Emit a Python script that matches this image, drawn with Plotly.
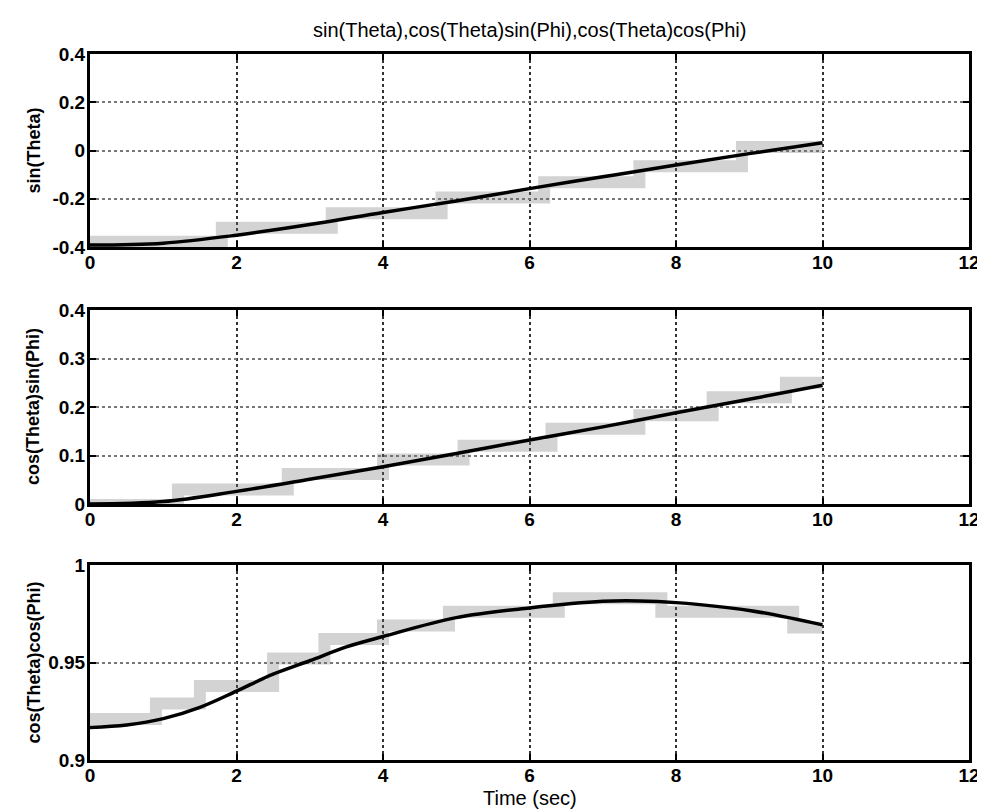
import plotly.graph_objects as go

# ---- data ----
time_s = [0, 1, 2, 3, 4, 5, 6, 7, 8, 9, 10]
sin_theta = [-0.392, -0.384, -0.351, -0.307, -0.257, -0.209, -0.158, -0.109, -0.060, -0.013, 0.032]
cos_theta_sin_phi = [0.0, 0.005, 0.026, 0.051, 0.077, 0.104, 0.132, 0.159, 0.188, 0.216, 0.245]

time_s3 = [0, 0.5, 1, 1.5, 2, 2.5, 3, 3.5, 4, 5, 6, 7, 7.5, 8, 9, 10]
cos_theta_cos_phi = [0.9167, 0.918, 0.9212, 0.927, 0.9353, 0.944, 0.9509, 0.958, 0.9633,
                     0.973, 0.978, 0.9814, 0.9816, 0.9807, 0.9767, 0.9693]

# gray stepped (sampled) traces visible behind the curves
step_t1 = [0, 1.8, 3.3, 4.8, 6.2, 7.5, 8.9, 10]
step_v1 = [-0.378, -0.320, -0.260, -0.195, -0.132, -0.065, 0.015, 0.015]
step_t2 = [0, 1.2, 2.7, 4.0, 5.1, 6.3, 7.5, 8.5, 9.5, 10]
step_v2 = [-0.002, 0.030, 0.062, 0.092, 0.120, 0.155, 0.183, 0.220, 0.250, 0.250]
step_t3 = [0, 0.9, 1.5, 2.5, 3.2, 4.0, 4.9, 6.4, 7.8, 9.6, 10]
step_v3 = [0.921, 0.929, 0.938, 0.952, 0.962, 0.969, 0.976, 0.983, 0.976, 0.968, 0.968]

x_ticks = [0, 2, 4, 6, 8, 10, 12]
x_ticktext = ["0", "2", "4", "6", "8", "10", "12"]
y1_ticks = [-0.4, -0.2, 0, 0.2, 0.4]
y1_ticktext = ["-0.4", "-0.2", "0", "0.2", "0.4"]
y2_ticks = [0, 0.1, 0.2, 0.3, 0.4]
y2_ticktext = ["0", "0.1", "0.2", "0.3", "0.4"]
y3_ticks = [0.9, 0.95, 1.0]
y3_ticktext = ["0.9", "0.95", "1"]

title_text = "sin(Theta),cos(Theta)sin(Phi),cos(Theta)cos(Phi)"
ylabels = ["sin(Theta)", "cos(Theta)sin(Phi)", "cos(Theta)cos(Phi)"]
xlabel = "Time (sec)"

FONT = "Liberation Sans, Arial, sans-serif"
GRAY = "rgba(110,110,110,0.30)"

fig = go.Figure()

sets = [
    (time_s, sin_theta, step_t1, step_v1, "x", "y"),
    (time_s, cos_theta_sin_phi, step_t2, step_v2, "x2", "y2"),
    (time_s3, cos_theta_cos_phi, step_t3, step_v3, "x3", "y3"),
]
for t, v, st, sv, xa, ya in sets:
    fig.add_trace(go.Scatter(x=st, y=sv, mode="lines", line=dict(color=GRAY, width=12, shape="hv"),
                             xaxis=xa, yaxis=ya, showlegend=False, hoverinfo="skip"))
    fig.add_trace(go.Scatter(x=t, y=v, mode="lines", line=dict(color="black", width=3.5, shape="spline"),
                             xaxis=xa, yaxis=ya, showlegend=False))

# plot area in pixels: x 82..961 ; rows 46-239, 302-496, 557-752
W, H = 985, 811
ml, mr, mt, mb = 82, 24, 46, 59
ph = H - mt - mb


def dom(top_px, bot_px):
    return [(H - mb - bot_px) / ph, (H - mb - top_px) / ph]


doms = [dom(46, 239), dom(302, 496), dom(557, 752)]

axis_common = dict(
    showline=True, linecolor="black", linewidth=3, mirror="ticks",
    ticks="inside", ticklen=6, tickwidth=2, tickcolor="black",
    showgrid=True, gridcolor="#333", gridwidth=2, griddash="dot",
    zeroline=False,
    tickfont=dict(family=FONT, size=19, color="black", weight="bold"),
)

yinfo = [([-0.4, 0.4], y1_ticks, y1_ticktext),
         ([0, 0.4], y2_ticks, y2_ticktext),
         ([0.9, 1.0], y3_ticks, y3_ticktext)]

layout = dict(
    width=W, height=H,
    margin=dict(l=ml, r=mr, t=mt, b=mb),
    plot_bgcolor="white", paper_bgcolor="white",
    showlegend=False,
)
for i in range(3):
    sx = "" if i == 0 else str(i + 1)
    layout["xaxis" + sx] = dict(axis_common, domain=[0, 1], range=[0, 12], tickvals=x_ticks,
                                ticktext=x_ticktext, anchor="y" + sx, ticklabelstandoff=-4)
    rng, tv, tt = yinfo[i]
    layout["yaxis" + sx] = dict(axis_common, domain=doms[i], range=rng, tickvals=tv, ticktext=tt,
                                anchor="x" + sx, gridcolor="#777", ticklabelstandoff=-2)
fig.update_layout(**layout)

annotations = [
    dict(text=title_text, xref="paper", yref="paper", x=0.5, y=(H - mb - 22) / ph,
         xanchor="center", yanchor="middle", showarrow=False,
         font=dict(family=FONT, size=20, color="black")),
    dict(text=xlabel, xref="paper", yref="paper", x=0.5, y=(H - mb - 790) / ph,
         xanchor="center", yanchor="middle", showarrow=False,
         font=dict(family=FONT, size=20, color="black")),
]
centers = [142.5, 399, 654.5]
for lab, cy in zip(ylabels, centers):
    annotations.append(dict(text=lab, xref="paper", yref="paper", x=(25 - ml) / (W - ml - mr),
                            y=(H - mb - cy) / ph, xanchor="center", yanchor="middle",
                            textangle=-90, showarrow=False,
                            font=dict(family=FONT, size=18, color="black", weight="bold")))
fig.update_layout(annotations=annotations)

fig.write_html("out.html")
